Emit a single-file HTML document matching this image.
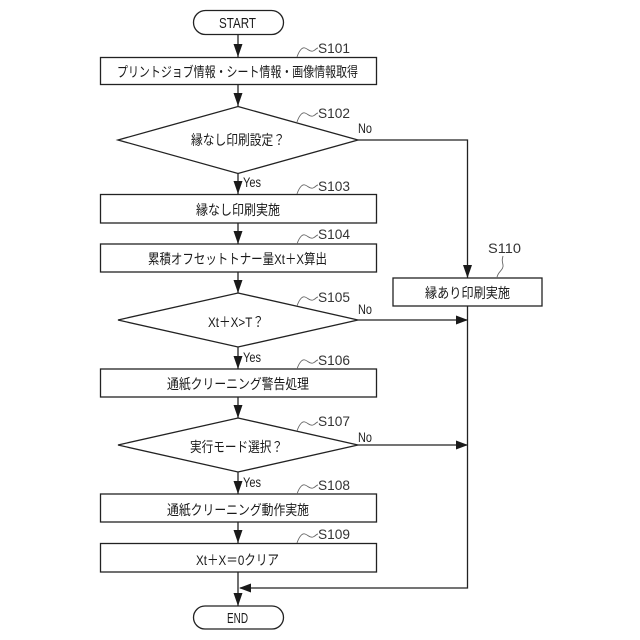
<!DOCTYPE html>
<html lang="ja">
<head>
<meta charset="utf-8">
<title>Flowchart</title>
<style>
html,body{margin:0;padding:0;background:#fff;width:640px;height:640px;overflow:hidden}
svg{display:block}
text{font-family:"Liberation Sans","Noto Sans CJK JP",sans-serif;fill:#1a1a1a}
.m{font-size:14px;text-anchor:start}
.e{font-size:15px;text-anchor:start}
.l{font-size:14px;fill:#333}
.y{font-size:14px;fill:#222}
.s{fill:none;stroke:#222;stroke-width:1.3}
.t{fill:none;stroke:#666;stroke-width:.9}
.a{fill:#1a1a1a;stroke:none}
</style>
</head>
<body>
<svg width="640" height="640" viewBox="0 0 640 640" xmlns="http://www.w3.org/2000/svg">
<rect class="s" x="193.5" y="10.5" width="90" height="24" rx="12" ry="12"/>
<rect class="s" x="100.5" y="57.5" width="276" height="27"/>
<polygon class="s" points="238,106.5 358,140 238,173.5 118,140"/>
<rect class="s" x="100.5" y="194.5" width="276" height="28.5"/>
<rect class="s" x="100.5" y="244" width="276" height="28"/>
<polygon class="s" points="238,293 358,320 238,347 118,320"/>
<rect class="s" x="100.5" y="369" width="276" height="28"/>
<polygon class="s" points="238,418 358,445 238,472 118,445"/>
<rect class="s" x="100.5" y="494" width="276" height="28"/>
<rect class="s" x="100.5" y="543.5" width="276" height="28.5"/>
<rect class="s" x="193.5" y="606" width="90" height="23" rx="11.5" ry="11.5"/>
<rect class="s" x="393" y="278" width="149" height="28"/>

<path class="s" d="M238 34V57M238 84V106M238 173V194M238 223V244M238 272V293M238 347V369M238 397V418M238 472V494M238 522V543M238 572V606"/>
<path class="s" d="M358 140H467.5V278M358 320H467M358 445H467M467.5 306V588H240"/>

<g class="a">
<path d="M233.5 44H242.5L238 57Z"/>
<path d="M233.5 93H242.5L238 106Z"/>
<path d="M233.5 181H242.5L238 194Z"/>
<path d="M233.5 231H242.5L238 244Z"/>
<path d="M233.5 280H242.5L238 293Z"/>
<path d="M233.5 356H242.5L238 369Z"/>
<path d="M233.5 405H242.5L238 418Z"/>
<path d="M233.5 481H242.5L238 494Z"/>
<path d="M233.5 530H242.5L238 543Z"/>
<path d="M233.5 593H242.5L238 606Z"/>
<path d="M463 265H472L467.5 278Z"/>
<path d="M456 315.5V324.5L468 320Z"/>
<path d="M456 440.5V449.5L468 445Z"/>
<path d="M239 588L251 583.5V592.5Z"/>
</g>

<text class="e" x="219" y="28" textLength="37" lengthAdjust="spacingAndGlyphs">START</text>
<text class="m" x="117" y="77" textLength="241" lengthAdjust="spacingAndGlyphs">プリントジョブ情報・シート情報・画像情報取得</text>
<text class="m" x="191" y="145" textLength="94" lengthAdjust="spacingAndGlyphs">縁なし印刷設定？</text>
<text class="m" x="196" y="215" textLength="84" lengthAdjust="spacingAndGlyphs">縁なし印刷実施</text>
<text class="m" x="148" y="264" textLength="179" lengthAdjust="spacingAndGlyphs">累積オフセットトナー量Xt＋X算出</text>
<text class="m" x="208" y="327" textLength="56" lengthAdjust="spacingAndGlyphs">Xt＋X&gt;T？</text>
<text class="m" x="167" y="389" textLength="142" lengthAdjust="spacingAndGlyphs">通紙クリーニング警告処理</text>
<text class="m" x="190" y="452" textLength="93" lengthAdjust="spacingAndGlyphs">実行モード選択？</text>
<text class="m" x="167" y="515" textLength="142" lengthAdjust="spacingAndGlyphs">通紙クリーニング動作実施</text>
<text class="m" x="196" y="565" textLength="83" lengthAdjust="spacingAndGlyphs">Xt＋X＝0クリア</text>
<text class="e" x="227" y="623" textLength="21" lengthAdjust="spacingAndGlyphs">END</text>
<text class="m" x="425" y="298" textLength="85" lengthAdjust="spacingAndGlyphs">縁あり印刷実施</text>

<text class="l" x="318" y="53" textLength="32" lengthAdjust="spacingAndGlyphs">S101</text>
<text class="l" x="318" y="118" textLength="32" lengthAdjust="spacingAndGlyphs">S102</text>
<text class="l" x="318" y="191" textLength="32" lengthAdjust="spacingAndGlyphs">S103</text>
<text class="l" x="318" y="239" textLength="32" lengthAdjust="spacingAndGlyphs">S104</text>
<text class="l" x="318" y="302" textLength="32" lengthAdjust="spacingAndGlyphs">S105</text>
<text class="l" x="318" y="365" textLength="32" lengthAdjust="spacingAndGlyphs">S106</text>
<text class="l" x="318" y="426" textLength="32" lengthAdjust="spacingAndGlyphs">S107</text>
<text class="l" x="318" y="490" textLength="32" lengthAdjust="spacingAndGlyphs">S108</text>
<text class="l" x="318" y="539" textLength="32" lengthAdjust="spacingAndGlyphs">S109</text>
<text class="l" x="488" y="253" textLength="33" lengthAdjust="spacingAndGlyphs">S110</text>

<text class="y" x="358" y="133" textLength="14" lengthAdjust="spacingAndGlyphs">No</text>
<text class="y" x="358" y="314" textLength="14" lengthAdjust="spacingAndGlyphs">No</text>
<text class="y" x="358" y="442" textLength="14" lengthAdjust="spacingAndGlyphs">No</text>
<text class="y" x="243" y="187" textLength="18" lengthAdjust="spacingAndGlyphs">Yes</text>
<text class="y" x="243" y="362" textLength="18" lengthAdjust="spacingAndGlyphs">Yes</text>
<text class="y" x="243" y="487" textLength="18" lengthAdjust="spacingAndGlyphs">Yes</text>

<g class="t">
<path d="M297 57C299 51 302 47 305 48S310 52 313 51S316 48 318 48"/>
<path d="M297 122C299 116 302 112 305 113S310 117 313 116S316 113 318 113"/>
<path d="M297 194C299 188 302 184 305 185S310 189 313 188S316 185 318 185"/>
<path d="M297 244C299 238 302 234 305 235S310 239 313 238S316 235 318 235"/>
<path d="M297 306C299 300 302 296 305 297S310 301 313 300S316 297 318 297"/>
<path d="M297 369C299 363 302 359 305 360S310 364 313 363S316 360 318 360"/>
<path d="M297 431C299 425 302 421 305 422S310 426 313 425S316 422 318 422"/>
<path d="M297 494C299 488 302 484 305 485S310 489 313 488S316 485 318 485"/>
<path d="M297 543C299 537 302 533 305 534S310 538 313 537S316 534 318 534"/>
<path d="M497 278C497 272 504 270 503 265S502 260 503 256"/>
</g>
</svg>
</body>
</html>
